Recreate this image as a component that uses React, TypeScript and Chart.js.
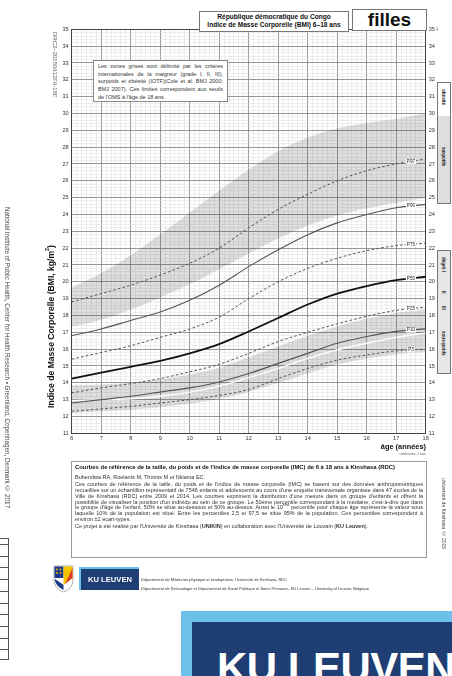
import React, { useEffect, useRef } from "react";
import { Chart, registerables } from "chart.js";
Chart.register(...registerables);

// ---- data ----
const AGES = [6, 7, 8, 9, 10, 11, 12, 13, 14, 15, 16, 17, 18];
const P97 = [18.8, 19.3, 19.8, 20.4, 21.1, 22.0, 23.2, 24.3, 25.2, 26.0, 26.6, 27.0, 27.3];
const P90 = [16.8, 17.2, 17.7, 18.2, 18.9, 19.8, 20.9, 21.9, 22.8, 23.5, 24.0, 24.4, 24.6];
const P75 = [15.4, 15.8, 16.2, 16.7, 17.2, 17.9, 19.0, 20.0, 20.8, 21.4, 21.85, 22.15, 22.3];
const P50 = [14.25, 14.6, 14.95, 15.3, 15.75, 16.3, 17.05, 17.85, 18.65, 19.3, 19.75, 20.1, 20.3];
const P25 = [13.4, 13.7, 13.95, 14.25, 14.65, 15.1, 15.75, 16.45, 17.0, 17.5, 17.95, 18.3, 18.5];
const P10 = [12.8, 13.0, 13.2, 13.45, 13.7, 14.05, 14.55, 15.15, 15.75, 16.35, 16.75, 17.05, 17.2];
const P3 = [12.3, 12.45, 12.6, 12.8, 13.0, 13.25, 13.6, 14.25, 14.85, 15.35, 15.65, 15.9, 16.0];

const IOTF_AGES = [6, 6.5, 7, 7.5, 8, 8.5, 9, 9.5, 10, 10.5, 11, 11.5, 12, 12.5, 13, 13.5, 14, 14.5, 15, 15.5, 16, 16.5, 17, 17.5, 18];
const IOTF30 = [19.65, 20.08, 20.51, 21.01, 21.57, 22.18, 22.81, 23.46, 24.11, 24.77, 25.42, 26.05, 26.67, 27.24, 27.76, 28.2, 28.57, 28.87, 29.11, 29.29, 29.43, 29.56, 29.69, 29.84, 30.0];
const IOTF25 = [17.34, 17.53, 17.75, 18.03, 18.35, 18.69, 19.07, 19.45, 19.86, 20.29, 20.74, 21.2, 21.68, 22.14, 22.58, 22.98, 23.34, 23.66, 23.94, 24.17, 24.37, 24.54, 24.7, 24.85, 25.0];

const THIN1 = [13.85, 13.9, 14.0, 14.2, 14.5, 14.9, 15.5, 16.15, 16.8, 17.35, 17.8, 18.15, 18.4];
const THIN2 = [12.95, 13.0, 13.05, 13.2, 13.45, 13.8, 14.3, 14.85, 15.45, 15.95, 16.35, 16.7, 16.95];
const THIN3 = [12.2, 12.3, 12.4, 12.55, 12.75, 13.05, 13.45, 14.0, 14.55, 15.1, 15.45, 15.7, 15.85];

const PCT_NAMES = ["P97", "P90", "P75", "P50", "P25", "P10", "P3"];
const PCT_VALUES = [P97, P90, P75, P50, P25, P10, P3];
const LABEL_AGE = 17.5;

const X_MIN = 6, X_MAX = 18, Y_MIN = 11, Y_MAX = 35;
const X_MINOR_PER_UNIT = 6;
const Y_MINOR_PER_UNIT = 5;

const FONT = '"Liberation Sans", Arial, Helvetica, sans-serif';
const BAND = "rgba(0,0,0,0.13)";

const pts = (xs: number[], ys: number[]) => xs.map((x, i) => ({ x, y: ys[i] }));
const isInt = (v: number) => Math.abs(v - Math.round(v)) < 1e-6;

const pctLabels = {
  id: "pctLabels",
  afterDatasetsDraw(chart: any) {
    const { ctx, scales } = chart;
    const xs = scales.x, ys = scales.y;
    const i = AGES.indexOf(17);
    ctx.save();
    ctx.font = `4.6px ${FONT}`;
    ctx.textAlign = "center";
    ctx.textBaseline = "middle";
    PCT_NAMES.forEach((name, k) => {
      const vals = PCT_VALUES[k];
      const v = vals[i] + (vals[i + 1] - vals[i]) * (LABEL_AGE - 17);
      const px = xs.getPixelForValue(LABEL_AGE);
      const py = ys.getPixelForValue(v);
      const w = ctx.measureText(name).width + 2;
      ctx.fillStyle = "#ffffff";
      ctx.fillRect(px - w / 2, py - 2.4, w, 4.8);
      ctx.fillStyle = "#222";
      ctx.fillText(name, px, py);
    });
    ctx.restore();
  },
};

function BmiChart() {
  const ref = useRef<HTMLCanvasElement | null>(null);
  useEffect(() => {
    if (!ref.current) return;
    const line = (data: number[], opts: any) => ({
      type: "line",
      data: pts(AGES, data),
      pointRadius: 0,
      fill: false,
      cubicInterpolationMode: "monotone",
      ...opts,
    });
    const dash = [2.6, 2.2];
    const datasets: any[] = [
      line(P50, { label: "P50", borderColor: "#111", borderWidth: 1.8 }),
      line(P10, { label: "P10", borderColor: "#555", borderWidth: 1.2 }),
      line(P90, { label: "P90", borderColor: "#555", borderWidth: 1.1 }),
      line(P97, { label: "P97", borderColor: "#555", borderWidth: 1, borderDash: dash }),
      line(P75, { label: "P75", borderColor: "#555", borderWidth: 1, borderDash: dash }),
      line(P25, { label: "P25", borderColor: "#555", borderWidth: 1, borderDash: dash }),
      line(P3, { label: "P3", borderColor: "#555", borderWidth: 1, borderDash: dash }),
      line(THIN2, { label: "grade II", borderColor: "rgba(255,255,255,0.95)", borderWidth: 1.3 }),
      {
        type: "line", label: "IOTF 30", data: pts(IOTF_AGES, IOTF30), pointRadius: 0, borderWidth: 0,
        borderColor: "rgba(0,0,0,0)", backgroundColor: BAND, fill: 9, cubicInterpolationMode: "monotone",
      },
      {
        type: "line", label: "IOTF 25", data: pts(IOTF_AGES, IOTF25), pointRadius: 0, borderWidth: 0,
        borderColor: "rgba(0,0,0,0)", fill: false, cubicInterpolationMode: "monotone",
      },
      line(THIN1, { label: "grade I", borderWidth: 0, borderColor: "rgba(0,0,0,0)", backgroundColor: BAND, fill: 11 }),
      line(THIN3, { label: "grade III", borderWidth: 0, borderColor: "rgba(0,0,0,0)", fill: false }),
    ];

    const yTicks = (s: any) => {
      const n = (Y_MAX - Y_MIN) * Y_MINOR_PER_UNIT;
      s.ticks = Array.from({ length: n + 1 }, (_, i) => ({ value: Y_MIN + i / Y_MINOR_PER_UNIT }));
    };
    const xTicks = (s: any) => {
      const n = (X_MAX - X_MIN) * X_MINOR_PER_UNIT;
      s.ticks = Array.from({ length: n + 1 }, (_, i) => ({ value: X_MIN + i / X_MINOR_PER_UNIT }));
    };
    const gridColor = (c: any) => (c.tick && isInt(c.tick.value) ? "#8c8c8c" : "#dcdcdc");
    const gridWidth = (c: any) => (c.tick && isInt(c.tick.value) ? 0.9 : 0.5);
    const tickFont = { family: FONT, size: 5.6 };

    const chart = new Chart(ref.current, {
      type: "line",
      data: { datasets },
      plugins: [pctLabels],
      options: {
        responsive: false,
        animation: false,
        devicePixelRatio: 1,
        layout: { padding: { left: 59.7, right: 14.3, top: 29.3, bottom: 232.7 } },
        plugins: {
          legend: { display: false },
          tooltip: { enabled: false },
          filler: { drawTime: "beforeDatasetsDraw" },
        },
        scales: {
          x: {
            type: "linear", position: "bottom", min: X_MIN, max: X_MAX,
            afterBuildTicks: xTicks,
            afterFit: (s: any) => { s.height = 10; },
            ticks: {
              autoSkip: false, maxRotation: 0, padding: 2, color: "#333", font: tickFont,
              callback: (v: any) => (isInt(v) ? String(Math.round(v)) : ""),
            },
            grid: { color: gridColor, lineWidth: gridWidth, drawTicks: false },
            border: { display: true, color: "#444", width: 1 },
          },
          x2: {
            type: "linear", position: "top", min: X_MIN, max: X_MAX, display: true,
            afterFit: (s: any) => { s.height = 0; },
            ticks: { display: false },
            grid: { display: false, drawTicks: false },
            border: { display: true, color: "#444", width: 1 },
          },
          y: {
            type: "linear", position: "left", min: Y_MIN, max: Y_MAX,
            afterBuildTicks: yTicks,
            afterFit: (s: any) => { s.width = 12; },
            ticks: {
              autoSkip: false, padding: 3, color: "#333", font: tickFont,
              callback: (v: any) => (isInt(v) ? String(Math.round(v)) : ""),
            },
            grid: { color: gridColor, lineWidth: gridWidth, drawTicks: false },
            border: { display: true, color: "#444", width: 1 },
          },
          y2: {
            type: "linear", position: "right", min: Y_MIN, max: Y_MAX, display: true,
            afterBuildTicks: yTicks,
            afterFit: (s: any) => { s.width = 12; },
            ticks: {
              autoSkip: false, padding: 3, color: "#333", font: tickFont,
              callback: (v: any) => (isInt(v) ? (Math.round(v) === Y_MAX ? `${Y_MAX} kg/m²` : String(Math.round(v))) : ""),
            },
            grid: { display: false, drawTicks: false },
            border: { display: true, color: "#444", width: 1 },
          },
        },
      } as any,
    } as any);
    return () => chart.destroy();
  }, []);
  return <canvas ref={ref} width={452} height={676} style={{ position: "absolute", left: 0, top: 0, width: 452, height: 676 }} />;
}

const abs = (s: React.CSSProperties): React.CSSProperties => ({ position: "absolute", ...s });

export default function App() {
  return (
    <div style={{ position: "absolute", left: 0, top: 0, width: 452, height: 676, overflow: "hidden", background: "#fff", fontFamily: FONT, color: "#222" }}>
      <BmiChart />

      {/* left margin texts */}
      <div style={abs({ left: 4, top: 207, writingMode: "vertical-rl", fontSize: 6.3, color: "#444", whiteSpace: "nowrap" })}>
        National Institute of Public Health, Center for Health Research • Greenland, Copenhagen, Denmark © 2017
      </div>
      <div style={abs({ left: 52, top: 32, writingMode: "vertical-rl", fontSize: 6, color: "#666", whiteSpace: "nowrap" })}>
        DRC2–20150612F6-18F
      </div>
      <div style={abs({ left: 44, top: 236, height: 182, writingMode: "vertical-rl", transform: "rotate(180deg)", fontSize: 8.6, fontWeight: "bold", whiteSpace: "nowrap", textAlign: "center", color: "#111" })}>
        Indice de Masse Corporelle (BMI, kg/m<sup style={{ fontSize: 5.4 }}>2</sup>)
      </div>
      <div style={abs({ left: -1, top: 538, width: 8, height: 120, border: "1px solid #555" })}>
        {Array.from({ length: 10 }, (_, i) => (
          <div key={i} style={abs({ left: 0, top: 5 + i * 11.7, width: 8, height: 0, borderTop: "1px solid #555" })} />
        ))}
      </div>

      {/* title boxes */}
      <div style={abs({ left: 199, top: 11, width: 148, height: 18, border: "1px solid #777", background: "#fff", textAlign: "center", fontWeight: "bold", fontSize: 6.6, lineHeight: "8.4px", paddingTop: 1, color: "#111" })}>
        République démocratique du Congo<br />Indice de Masse Corporelle (BMI) 6–18 ans
      </div>
      <div style={abs({ left: 352, top: 9, width: 73, height: 20, border: "1px solid #777", background: "#fff", textAlign: "center", fontWeight: "bold", fontSize: 19, lineHeight: "20px", color: "#111" })}>
        filles
      </div>

      {/* note box */}
      <div style={abs({ left: 93, top: 60, width: 125, height: 36, padding: "2px 4px", border: "1px solid #888", background: "#fff", fontSize: 5.5, lineHeight: "7.7px", textAlign: "justify", color: "#333" })}>
        Les zones grises sont délimité par les critères internationales de la maigreur (grade I, II, III), surpoids et obésité (IOTF)(Cole et al. BMJ 2000; BMJ 2007). Ces limites correspondent aux seuils de l'OMS à l'âge de 18 ans.
      </div>

      {/* right side category boxes */}
      <div style={abs({ left: 437, top: 82, width: 12, height: 120, border: "1px solid #777", background: "#fff" })}>
        <div style={abs({ left: 0, top: 33, width: 12, height: 87, background: "#dedede" })} />
        <div style={abs({ left: 3, top: 6, writingMode: "vertical-rl", fontSize: 4.6, fontWeight: "bold", whiteSpace: "nowrap" })}>obésité</div>
        <div style={abs({ left: 3, top: 64, writingMode: "vertical-rl", fontSize: 4.6, fontWeight: "bold", whiteSpace: "nowrap" })}>surpoids</div>
      </div>
      <div style={abs({ left: 437, top: 250, width: 12, height: 122, border: "1px solid #777", background: "#e6e6e6" })}>
        <div style={abs({ left: 3, top: 6, writingMode: "vertical-rl", fontSize: 4.6, fontWeight: "bold", whiteSpace: "nowrap" })}>dégré I</div>
        <div style={abs({ left: 3, top: 40, writingMode: "vertical-rl", fontSize: 4.6, fontWeight: "bold", whiteSpace: "nowrap" })}>II</div>
        <div style={abs({ left: 3, top: 55, writingMode: "vertical-rl", fontSize: 4.6, fontWeight: "bold", whiteSpace: "nowrap" })}>III</div>
        <div style={abs({ left: 3, top: 80, writingMode: "vertical-rl", fontSize: 4.6, fontWeight: "bold", whiteSpace: "nowrap" })}>sous-poids</div>
      </div>

      {/* x axis title */}
      <div style={abs({ left: 376, top: 442, width: 50, textAlign: "right", fontSize: 7.4, fontWeight: "bold", whiteSpace: "nowrap", color: "#111" })}>âge (années)</div>
      <div style={abs({ left: 390, top: 452, width: 36, textAlign: "right", fontSize: 3, color: "#666", whiteSpace: "nowrap" })}>subdivisions: 2 mois</div>

      {/* right vertical text */}
      <div style={abs({ left: 441, top: 478, writingMode: "vertical-rl", fontSize: 5, color: "#444", whiteSpace: "nowrap" })}>
        Université de Kinshasa © 2015
      </div>

      {/* info box */}
      <div style={abs({ left: 71, top: 461, width: 348, height: 91, padding: "2px 3px", border: "1px solid #999", fontSize: 5.5, lineHeight: "5.85px", color: "#333", textAlign: "justify" })}>
        <div style={{ fontWeight: "bold", color: "#111", fontSize: 5.9, lineHeight: "6px", marginBottom: 5 }}>
          Courbes de référence de la taille, du poids et de l'indice de masse corporelle (IMC) de 6 à 18 ans à Kinshasa (RDC)
        </div>
        <div style={{ marginBottom: 1.2 }}>Buhendwa RA, Roelants M, Thomis M et Nkiama EC.</div>
        <div style={{ marginBottom: 1.2 }}>
          Ces courbes de référence de la taille, du poids et de l'indice de masse corporelle (IMC) se basent sur des données anthropométriques recueillies sur un échantillon représentatif de 7546 enfants et adolescents au cours d'une enquête transversale organisée dans 47 écoles de la Ville de Kinshasa (RDC) entre 2009 et 2014. Les courbes expriment la distribution d'une mesure dans un groupe d'enfants et offrent la possibilité de visualiser la position d'un individu au sein de ce groupe. Le 50ème percentile correspondant à la médiane, c'est-à-dire que dans le groupe d'âge de l'enfant, 50% se situe au-dessous et 50% au-dessus. Aussi le 10<sup style={{ fontSize: 3.4, lineHeight: 0 }}>ème</sup> percentile pour chaque âge représente la valeur sous laquelle 10% de la population est situé. Entre les percentiles 2,5 et 97,5 se situe 95% de la population. Ces percentiles correspondent à environ ±2 écart-types.
        </div>
        <div>
          Ce projet a été réalisé par l'Université de Kinshasa (<b>UNIKIN</b>) en collaboration avec l'Université de Louvain (<b>KU Leuven</b>).
        </div>
      </div>

      {/* logo row */}
      <svg style={abs({ left: 53, top: 565 })} width={21} height={28} viewBox="0 0 21 28">
        <path d="M1,1 H20 V14 Q20,24 10.5,27 Q1,24 1,14 Z" fill="#fff" stroke="#999" strokeWidth={0.8} />
        <path d="M1.5,1.5 H10.5 V13 H1.5 Z" fill="#1d3a8a" />
        <path d="M10.5,1.5 H19.5 V13 L10.5,20 Z" fill="#f5c400" />
        <path d="M19.5,3 V13 L12,19 Z" fill="#e03a2a" />
        <path d="M2,14 L10.5,20 L10.5,25 Q4,22 2,16 Z" fill="#1d3a8a" />
        <circle cx={4} cy={4.5} r={0.9} fill="#f5c400" />
        <circle cx={7.5} cy={4.5} r={0.9} fill="#f5c400" />
        <circle cx={4} cy={8} r={0.9} fill="#f5c400" />
        <circle cx={7.5} cy={8} r={0.9} fill="#f5c400" />
      </svg>
      <div style={abs({ left: 79, top: 567, width: 60, height: 23, background: "#6cc0ea" })}>
        <div style={abs({ left: 2, top: 2, width: 58, height: 21, background: "#1f3f74", color: "#fff", fontWeight: "bold", fontSize: 7.6, lineHeight: "21px", textAlign: "center", whiteSpace: "nowrap" })}>
          KU LEUVEN
        </div>
      </div>
      <div style={abs({ left: 141, top: 576, fontSize: 4, lineHeight: "8.6px", color: "#333", whiteSpace: "nowrap" })}>
        Département de Médecine physique et réadaptation, Université de Kinshasa, RDC<br />
        Département de Kinésiologie et Département de Santé Publique et Soins Primaires, KU Leuven – University of Leuven, Belgique
      </div>

      {/* big logo */}
      <div style={abs({ left: 181, top: 611, width: 280, height: 80, background: "#6cc0ea" })}>
        <div style={abs({ left: 11, top: 11, width: 280, height: 80, background: "#1f3f74" })}>
          <div style={abs({ left: 25, top: 25, fontSize: 42, fontWeight: "bold", color: "#fff", lineHeight: "42px", whiteSpace: "nowrap", letterSpacing: -0.5 })}>
            KU LEUVEN
          </div>
        </div>
      </div>
    </div>
  );
}
